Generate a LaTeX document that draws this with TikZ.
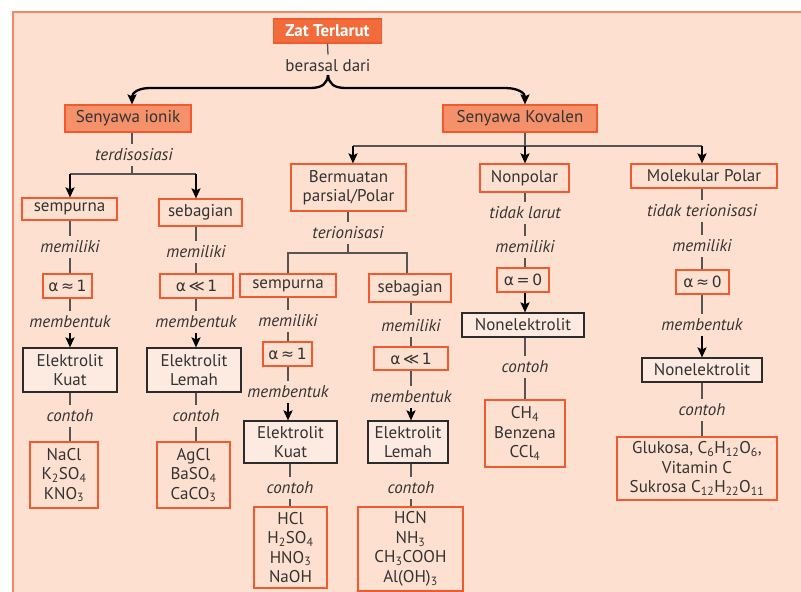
\documentclass[tikz,border=0pt]{standalone}
\usepackage{fontspec}
\setmainfont{PT Sans}
\newfontfamily\symf{DejaVu Sans}
\usetikzlibrary{arrows.meta}
\definecolor{panelfill}{HTML}{FDE0D0}
\definecolor{panelline}{HTML}{F4876A}
\definecolor{boxred}{HTML}{F15A2E}
\definecolor{zfill}{HTML}{F26B3A}
\definecolor{senfill}{HTML}{F4916A}
\definecolor{efill}{HTML}{FDEAE0}
\definecolor{ebord}{HTML}{2B2B2B}
\definecolor{txt}{HTML}{333333}
\definecolor{connc}{HTML}{555555}
\newcommand\chsub[1]{\textsubscript{#1}}
\newcommand\fsz{\fontsize{17}{19.5}\selectfont}
\newcommand\alf{\fontsize{15.5}{18}\selectfont\symf}
\tikzset{
  obox/.style={draw=boxred, line width=1.2pt, inner sep=0pt, align=center, text=txt, font=\fsz},
  sbox/.style={obox, fill=senfill},
  zbox/.style={draw=boxred, fill=zfill, line width=1.2pt, inner sep=0pt, text=white, font=\fsz\bfseries},
  ebox/.style={draw=ebord, fill=efill, line width=1.2pt, inner sep=0pt, align=center, text=txt, font=\fsz},
  lab/.style={inner xsep=1pt, inner ysep=5pt, text=txt, font=\fsz\itshape},
  plab/.style={inner xsep=1pt, inner ysep=5pt, text=txt, font=\fsz},
  conn/.style={draw=connc, line width=1.3pt},
  arr/.style={draw=black, line width=2pt, -{Stealth[length=10pt,width=9pt,inset=2pt]}}
}
\begin{document}
\begin{tikzpicture}[x=1pt,y=-1pt]
\useasboundingbox (0,0) rectangle (801,592);
\fill[panelfill] (12,11) rectangle (801,592);
\draw[panelline, line width=1.6pt] (12.8,592) -- (12.8,11.8) -- (801,11.8);

% top
\node[zbox, minimum width=108, minimum height=24] (zat) at (327.5,31) {Zat Terlarut};
\node[plab] (bd) at (328,66) {berasal dari};
\coordinate (bc) at (328,75);
\node[sbox, minimum width=126, minimum height=27] (ionik) at (128,118.5) {Senyawa ionik};
\node[sbox, minimum width=154, minimum height=27] (kov) at (520,118.5) {Senyawa Kovalen};
\draw[conn] (zat.south) -- (bd.north);
\draw[arr, line width=2.3pt] (bc) .. controls (327,84) and (322,88) .. (310,88) -- (150,88) .. controls (138,88) and (132,93) .. ([xshift=4pt]ionik.north);
\draw[arr, line width=2.3pt] (bc) .. controls (329,84) and (334,88) .. (346,88) -- (505,88) .. controls (518,88) and (525,93) .. ([xshift=5pt]kov.north);

% left branch (ionik)
\node[lab] (td) at (134,155) {terdisosiasi};
\coordinate (b1L) at (70,174);
\coordinate (b1R) at (196,174);
\node[obox, minimum width=95, minimum height=22] (s1) at (69.5,209) {sempurna};
\node[obox, minimum width=83, minimum height=27] (sb1) at (200.5,212.5) {sebagian};
\draw[conn] ([xshift=4pt]ionik.south) -- ([xshift=-2pt]td.north);
\draw[conn] ([xshift=-2pt]td.south) -- ([xshift=-2pt]td.south |- b1L);
\draw[conn] (b1L) -- (b1R);
\draw[arr] (b1L) -- (b1L |- s1.north);
\draw[arr] (b1R) -- (b1R |- sb1.north);

\node[lab] (m1) at (70,247) {memiliki};
\node[obox, minimum width=49, minimum height=24] (a1) at (67.5,286) {\alf α\,≈\,1};
\node[lab] (mb1) at (70,322) {membentuk};
\node[ebox, minimum width=94, minimum height=44] (e1) at (70,370) {Elektrolit\\Kuat};
\node[lab] (c1) at (70,416) {contoh};
\node[obox, minimum width=68, minimum height=66] (ex1) at (64,475) {NaCl\\K\chsub{2}SO\chsub{4}\\KNO\chsub{3}};
\draw[conn] (m1.north |- s1.south) -- (m1.north);
\draw[conn] (m1.south) -- (m1.south |- a1.north);
\draw[conn] (mb1.north |- a1.south) -- (mb1.north);
\draw[arr] (mb1.south) -- (mb1.south |- e1.north);
\draw[conn] (c1.north |- e1.south) -- (c1.north);
\draw[conn] (c1.south) -- (c1.south |- ex1.north);

\node[lab] (m2) at (196,252) {memiliki};
\node[obox, minimum width=73, minimum height=24] (a2) at (196.5,286) {\alf α\,≪\,1};
\node[lab] (mb2) at (196,322) {membentuk};
\node[ebox, minimum width=94, minimum height=44] (e2) at (194,370) {Elektrolit\\Lemah};
\node[lab] (c2) at (196,416) {contoh};
\node[obox, minimum width=73, minimum height=66] (ex2) at (193.5,475) {AgCl\\BaSO\chsub{4}\\CaCO\chsub{3}};
\draw[conn] (m2.north |- sb1.south) -- (m2.north);
\draw[conn] (m2.south) -- (m2.south |- a2.north);
\draw[conn] (mb2.north |- a2.south) -- (mb2.north);
\draw[arr] (mb2.south) -- (mb2.south |- e2.north);
\draw[conn] (c2.north |- e2.south) -- (c2.north);
\draw[conn] (c2.south) -- (c2.south |- ex2.north);

% kovalen bar
\coordinate (kL) at (353,146);
\coordinate (kM) at (525,146);
\coordinate (kR) at (702,146);
\node[obox, minimum width=115, minimum height=47] (bp) at (348.5,187.5) {Bermuatan\\parsial/Polar};
\node[obox, minimum width=89, minimum height=28] (np) at (524.5,178) {Nonpolar};
\node[obox, minimum width=146, minimum height=24] (mp) at (704,176) {Molekular Polar};
\draw[conn] (kM |- kov.south) -- (kM);
\draw[conn] (kL) -- (kR);
\draw[arr] (kL) -- (kL |- bp.north);
\draw[arr] (kM) -- (kM |- np.north);
\draw[arr] (kR) -- (kR |- mp.north);

% polar branch
\node[lab] (ti) at (348,233) {terionisasi};
\coordinate (b2L) at (288,253);
\coordinate (b2R) at (407,253);
\node[obox, minimum width=96, minimum height=23] (s2) at (288,285.5) {sempurna};
\node[obox, minimum width=82, minimum height=28] (sb2) at (410,288) {sebagian};
\draw[conn] (ti.north |- bp.south) -- (ti.north);
\draw[conn] (ti.south) -- (ti.south |- b2L);
\draw[conn] (b2L |- s2.north) -- (b2L) -- (b2R) -- (b2R |- sb2.north);

\node[lab] (m3) at (288,321) {memiliki};
\node[obox, minimum width=49, minimum height=24] (a3) at (287.5,354) {\alf α\,≈\,1};
\node[lab] (mb3) at (288,392) {membentuk};
\node[ebox, minimum width=93, minimum height=42] (e3) at (290.5,442) {Elektrolit\\Kuat};
\node[lab] (c3) at (290,488) {contoh};
\node[obox, minimum width=73, minimum height=81] (ex3) at (290.5,547.5) {HCl\\H\chsub{2}SO\chsub{4}\\HNO\chsub{3}\\NaOH};
\draw[conn] (m3.north |- s2.south) -- (m3.north);
\draw[conn] (m3.south) -- (m3.south |- a3.north);
\draw[conn] (mb3.north |- a3.south) -- (mb3.north);
\draw[arr] (mb3.south) -- (mb3.south |- e3.north);
\draw[conn] (c3.north |- e3.south) -- (c3.north);
\draw[conn] (c3.south) -- (c3.south |- ex3.north);

\node[lab] (m4) at (411,326) {memiliki};
\node[obox, minimum width=74, minimum height=23] (a4) at (411,358.5) {\alf α\,≪\,1};
\node[lab] (mb4) at (411,397) {membentuk};
\node[ebox, minimum width=80, minimum height=42] (e4) at (408,442) {Elektrolit\\Lemah};
\node[lab] (c4) at (411,488) {contoh};
\node[obox, minimum width=105, minimum height=84] (ex4) at (410.5,549) {HCN\\NH\chsub{3}\\CH\chsub{3}COOH\\Al(OH)\chsub{3}};
\draw[conn] (m4.north |- sb2.south) -- (m4.north);
\draw[conn] (m4.south) -- (m4.south |- a4.north);
\draw[conn] (mb4.north |- a4.south) -- (mb4.north);
\draw[arr] (mb4.south) -- (mb4.south |- e4.north);
\draw[conn] (c4.north |- e4.south) -- (c4.north);
\draw[conn] (c4.south) -- (c4.south |- ex4.north);

% nonpolar branch
\node[lab] (tl) at (525,213) {tidak larut};
\node[lab] (m5) at (525,247) {memiliki};
\node[obox, minimum width=52, minimum height=24] (a5) at (523,280) {\alf α\,=\,0};
\node[ebox, minimum width=122, minimum height=24] (ne1) at (523,325) {Nonelektrolit};
\node[lab] (c5) at (525,367) {contoh};
\node[obox, minimum width=80, minimum height=67] (ex5) at (525,433.5) {CH\chsub{4}\\Benzena\\CCl\chsub{4}};
\draw[conn] (tl.north |- np.south) -- (tl.north);
\draw[conn] (tl.south) -- (m5.north);
\draw[conn] (m5.south) -- (m5.south |- a5.north);
\draw[arr] (m5.south |- a5.south) -- (m5.south |- ne1.north);
\draw[conn] (c5.north |- ne1.south) -- (c5.north);
\draw[conn] (c5.south) -- (c5.south |- ex5.north);

% molekular polar branch
\node[lab] (tt) at (702,211) {tidak terionisasi};
\node[lab] (m6) at (702,246) {memiliki};
\node[obox, minimum width=53, minimum height=24] (a6) at (702.5,282) {\alf α\,≈\,0};
\node[lab] (mb6) at (702,325) {membentuk};
\node[ebox, minimum width=120, minimum height=24] (ne2) at (702,370) {Nonelektrolit};
\node[lab] (c6) at (702,410) {contoh};
\node[obox, minimum width=160, minimum height=63] (ex6) at (697,468.5) {Glukosa, C\chsub{6}H\chsub{12}O\chsub{6},\\Vitamin C\\Sukrosa C\chsub{12}H\chsub{22}O\chsub{11}};
\draw[conn] (tt.north |- mp.south) -- (tt.north);
\draw[conn] (tt.south) -- (m6.north);
\draw[conn] (m6.south) -- (m6.south |- a6.north);
\draw[conn] (mb6.north |- a6.south) -- (mb6.north);
\draw[arr] (mb6.south) -- (mb6.south |- ne2.north);
\draw[conn] (c6.north |- ne2.south) -- (c6.north);
\draw[conn] (c6.south) -- (c6.south |- ex6.north);
\end{tikzpicture}
\end{document}
